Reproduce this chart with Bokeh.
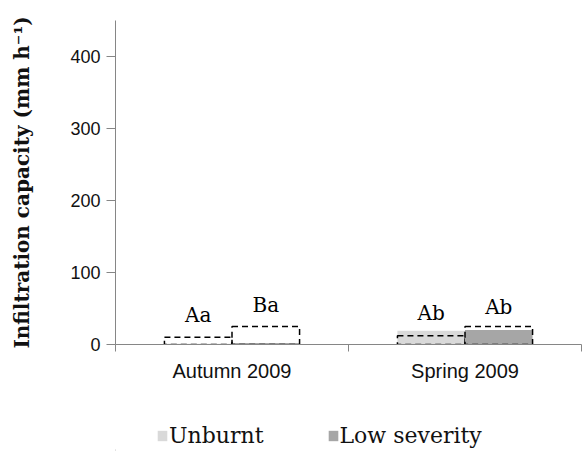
from bokeh.plotting import figure
from bokeh.layouts import column
from bokeh.models import Range1d, FixedTicker, Legend, LegendItem, ColumnDataSource
from bokeh.embed import file_html
from bokeh.resources import INLINE
from bokeh.core.properties import value

# ---- data ----
seasons = ["Autumn 2009", "Spring 2009"]
series = ["Unburnt", "Low severity"]
colors = ["#d9d9d9", "#a6a6a6"]
# mean infiltration capacity (filled bars)
unburnt = [1, 19]
low_severity = [2, 20]
# dashed outline bars
unburnt_dashed = [10, 12]
low_severity_dashed = [25, 25]
# significance letters
unburnt_letters = ["Aa", "Ab"]
low_severity_letters = ["Ba", "Ab"]
unburnt_letter_y = [41, 44]
low_severity_letter_y = [55, 52]

y_ticks = [0, 100, 200, 300, 400]

BAR_W = 0.29
offsets = [-BAR_W / 2, BAR_W / 2]

p = figure(width=582, height=400, output_backend="svg", toolbar_location=None,
           x_range=Range1d(0, len(seasons)), y_range=Range1d(0, 450),
           min_border_left=115, min_border_right=1, min_border_top=20,
           min_border_bottom=56)
p.outline_line_color = None
p.xgrid.visible = False
p.ygrid.visible = False
p.background_fill_color = "white"
p.border_fill_color = "white"

fills = [unburnt, low_severity]
dashed = [unburnt_dashed, low_severity_dashed]
letters = [unburnt_letters, low_severity_letters]
letter_y = [unburnt_letter_y, low_severity_letter_y]

sources = []
for k in range(len(series)):
    xs = [i + 0.5 + offsets[k] for i in range(len(seasons))]
    src = ColumnDataSource(dict(x=xs, top=fills[k], dtop=dashed[k],
                                lab=letters[k], ly=letter_y[k]))
    sources.append(src)
    p.vbar(x="x", top="top", bottom=0, width=BAR_W, source=src,
           fill_color=colors[k], line_color=None)
    p.vbar(x="x", top="dtop", bottom=0, width=BAR_W, source=src,
           fill_color=None, line_color="black", line_width=1.5, line_dash="6 4")
    p.text(x="x", y="ly", text="lab", source=src, text_align="center",
           text_baseline="middle", text_font=value("DejaVu Serif"),
           text_font_size="20px", text_color="black")

# axes
grey = "#868686"
p.yaxis.ticker = FixedTicker(ticks=y_ticks, minor_ticks=[])
p.yaxis.axis_line_color = grey
p.yaxis.major_tick_line_color = grey
p.yaxis.major_tick_out = 9
p.yaxis.major_tick_in = 0
p.yaxis.major_label_standoff = 6
p.yaxis.major_label_text_font = "Liberation Sans"
p.yaxis.major_label_text_font_size = "18px"
p.yaxis.major_label_text_color = "#111111"
p.yaxis.axis_label = "Infiltration capacity (mm h\u207b\u00b9)"
p.yaxis.axis_label_text_font = "DejaVu Serif"
p.yaxis.axis_label_text_font_style = "bold"
p.yaxis.axis_label_text_font_size = "20px"
p.yaxis.axis_label_text_color = "#111111"
p.yaxis.axis_label_standoff = 33

p.xaxis.ticker = FixedTicker(ticks=[i + 0.5 for i in range(len(seasons))],
                             minor_ticks=list(range(len(seasons) + 1)))
p.xaxis.major_label_overrides = {i + 0.5: s for i, s in enumerate(seasons)}
p.xaxis.axis_line_color = grey
p.xaxis.major_tick_line_color = None
p.xaxis.minor_tick_line_color = grey
p.xaxis.minor_tick_out = 7
p.xaxis.minor_tick_in = 0
p.xaxis.major_label_standoff = 8
p.xaxis.major_label_text_font = "Liberation Sans"
p.xaxis.major_label_text_font_size = "20px"
p.xaxis.major_label_text_color = "#111111"

# legend strip below the chart (its renderers lie outside its visible x range)
lg = figure(width=582, height=51, output_backend="svg", toolbar_location=None,
            x_range=Range1d(10, 11), y_range=Range1d(0, 450),
            x_axis_type=None, y_axis_type=None, min_border=0)
lg.outline_line_color = None
lg.xgrid.visible = False
lg.ygrid.visible = False
items = []
for k in range(len(series)):
    r = lg.vbar(x="x", top="top", bottom=0, width=BAR_W, source=sources[k],
                fill_color=colors[k], line_color=None)
    items.append(LegendItem(label=series[k], renderers=[r]))
legend = Legend(items=items, orientation="horizontal", location=(41, 3),
                label_text_font="DejaVu Serif", label_text_font_size="22px",
                label_text_color="#111111",
                glyph_width=12, glyph_height=13, label_standoff=1,
                spacing=63, padding=0, margin=0,
                border_line_color=None, background_fill_alpha=0)
lg.add_layout(legend, "center")

layout = column(p, lg, spacing=0)
open("out.html", "w").write(file_html(layout, INLINE))
